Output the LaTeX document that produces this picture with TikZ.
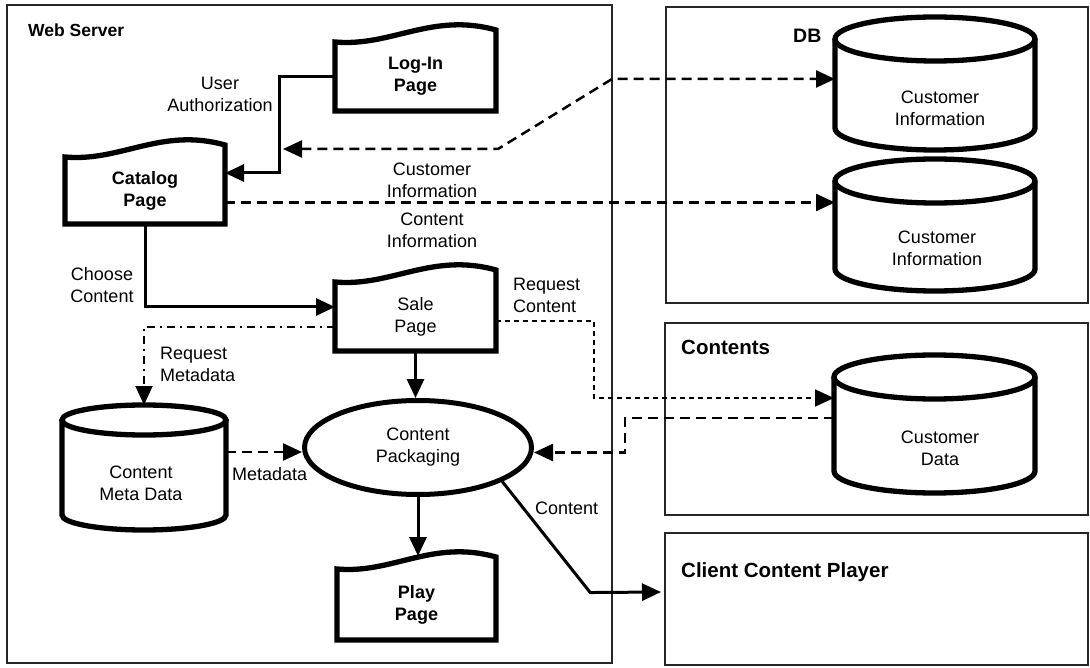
\documentclass[tikz,border=0pt]{standalone}
\usepackage{fontspec}
\setmainfont{Liberation Sans}
\usetikzlibrary{arrows.meta,calc,shapes.geometric}

\tikzset{
  panel/.style={rectangle, draw=black!85, line width=1.3pt, inner sep=0pt, outer sep=0pt},
  shapeline/.style={draw=black, line width=5.3pt},
  docbody/.style={rectangle, inner sep=0pt, outer sep=0pt, align=center,
    font=\bfseries\fontsize{18}{22}\selectfont},
  cylbody/.style={rectangle, inner sep=0pt, outer sep=0pt},
  txt/.style={inner sep=0pt, align=center, font=\fontsize{18}{22}\selectfont},
  boxtitle/.style={inner sep=0pt, anchor=base west, font=\bfseries\fontsize{20.5}{24}\selectfont},
  headend/.style={-{Triangle[length=19pt,width=17pt]}},
  solidflow/.style={draw, line width=3pt, headend},
  dashflow/.style={draw, line width=2.5pt, dash pattern=on 10pt off 6pt, headend},
  finedash/.style={draw, line width=1.8pt, dash pattern=on 5pt off 4pt, headend},
  dotdash/.style={draw, line width=2pt, dash pattern=on 8pt off 5pt on 2pt off 5pt, headend},
}

% page with a wavy top edge, drawn round a named node
\newcommand\docoutline[1]{%
  \draw[shapeline] (#1.south west) -- (#1.south east) -- ([yshift=12pt]#1.north east)
    .. controls ($(#1.north west)!0.6!(#1.north east)+(0,30pt)$)
       and ($(#1.north west)!0.35!(#1.north east)+(0,-5pt)$) .. (#1.north west) -- cycle;}

% upright storage cylinder, drawn round a named node: node, x radius, y radius
\newcommand\cylinderoutline[3]{%
  \draw[shapeline] ([yshift=-#3]#1.north west) -- ([yshift=#3]#1.south west)
    arc[start angle=180, end angle=360, x radius=#2, y radius=#3]
    -- ([yshift=-#3]#1.north east);
  \draw[shapeline] ([yshift=-#3]#1.north) ellipse [x radius=#2, y radius=#3];}

\begin{document}
\begin{tikzpicture}[x=1pt,y=-1pt]
\fill[white] (0,0) rectangle (1090,668);
\useasboundingbox (0,0) rectangle (1090,668);

% panels
\node[panel, minimum width=605pt, minimum height=658pt] (web) at (309.5,334) {};
\node[panel, minimum width=422pt, minimum height=296pt] (db) at (877,155) {};
\node[panel, minimum width=423pt, minimum height=192pt] (contents) at (876.5,419) {};
\node[panel, minimum width=423pt, minimum height=132pt] (client) at (876.5,599) {};

\node[boxtitle, font=\bfseries\fontsize{17.5}{21}\selectfont] (webt) at (28,37) {Web Server};
\node[boxtitle, font=\bfseries\fontsize{19.5}{23}\selectfont] (dbt) at (793,43) {DB};
\node[boxtitle] (contentst) at (681,355) {Contents};
\node[boxtitle] (clientt) at (681,577) {Client Content Player};

% pages
\node[docbody, minimum width=161pt, minimum height=69pt] (login) at (415.5,76.5) {Log-In\\Page};
\node[docbody, minimum width=160pt, minimum height=67pt] (cat) at (145,190.5) {Catalog\\Page};
\node[docbody, font=\fontsize{18}{22}\selectfont, minimum width=161pt, minimum height=69pt] (sale) at (415.5,316.5) {Sale\\Page};
\node[docbody, minimum width=159pt, minimum height=71pt] (play) at (416.5,604.5) {Play\\Page};

% stores
\node[cylbody, minimum width=200pt, minimum height=133pt] (cyl1) at (935,83.5) {};
\node[cylbody, minimum width=200pt, minimum height=132pt] (cyl2) at (935,225) {};
\node[cylbody, minimum width=201pt, minimum height=138pt] (cdat) at (934.5,424) {};
\node[cylbody, minimum width=164pt, minimum height=125pt] (cmd) at (144,467.5) {};

% process
\node[ellipse, draw, line width=5pt, minimum width=227pt, minimum height=94pt, txt] (pack) at (418,447.5) {Content\\Packaging};

% connectors
\draw[solidflow] (login.west) -- ++(-56,0) |- ([yshift=17.5pt]cat.east);
\coordinate (ciend) at (283,149);
\draw[dashflow, {Triangle[length=19pt,width=17pt]}-{Triangle[length=19pt,width=17pt]}]
  (ciend) -- ++(215,0) -- ++(114,-70) -- ([yshift=4.5pt]cyl1.west);
\draw[dashflow] ([yshift=-12pt]cat.east) -- ([yshift=-12pt]cat.east -| cyl2.west);
\draw[solidflow] (cat.south) |- ([yshift=9.5pt]sale.west);
\draw[dotdash] ([yshift=-10.5pt]sale.west) -| (cmd.north);
\draw[solidflow] (sale.south) -- (sale.south |- pack.north);
\draw[solidflow] (pack.south) -- ([yshift=13pt]pack.south |- play.north);
\draw[dashflow] ([yshift=15.5pt]cmd.east) -- ([yshift=15.5pt]cmd.east -| pack.west);
\draw[finedash] ([yshift=-4.5pt]sale.east) -- ++(98,0) |- ([yshift=26pt]cdat.west);
\draw[dashflow] ([yshift=6pt]cdat.west) -- ++(-209,0) |- ([yshift=-5pt]pack.east);
\draw[solidflow] (pack.-22) -- ++(88,111) -- ([yshift=7pt,xshift=-4pt]client.west);

% outlines of pages and stores
\docoutline{login}
\docoutline{cat}
\docoutline{sale}
\docoutline{play}
\cylinderoutline{cyl1}{100pt}{22pt}
\cylinderoutline{cyl2}{100pt}{22pt}
\cylinderoutline{cdat}{100.5pt}{22pt}
\cylinderoutline{cmd}{82pt}{15pt}

% store texts
\node[txt] (cyl1t) at (940,108) {Customer\\Information};
\node[txt] (cyl2t) at (937,248) {Customer\\Information};
\node[txt] (cdatt) at (940,448) {Customer\\Data};
\node[txt] (cmdt) at (141,483) {Content\\Meta Data};

% connector labels
\node[txt] (lauth) at (220,94.5) {User\\Authorization};
\node[txt] (lcinfo) at (432,180) {Customer\\Information};
\node[txt] (lctinfo) at (432,230) {Content\\Information};
\node[txt] (lchoose) at (102,285) {Choose\\Content};
\node[txt, anchor=west, align=left] (lreqc) at (513,295) {Request\\Content};
\node[txt, anchor=west, align=left] (lreqm) at (160,364.5) {Request\\Metadata};
\node[txt, anchor=west] (lmeta) at (232,474) {Metadata};
\node[txt, anchor=west] (lcont) at (535,508) {Content};
\end{tikzpicture}
\end{document}
